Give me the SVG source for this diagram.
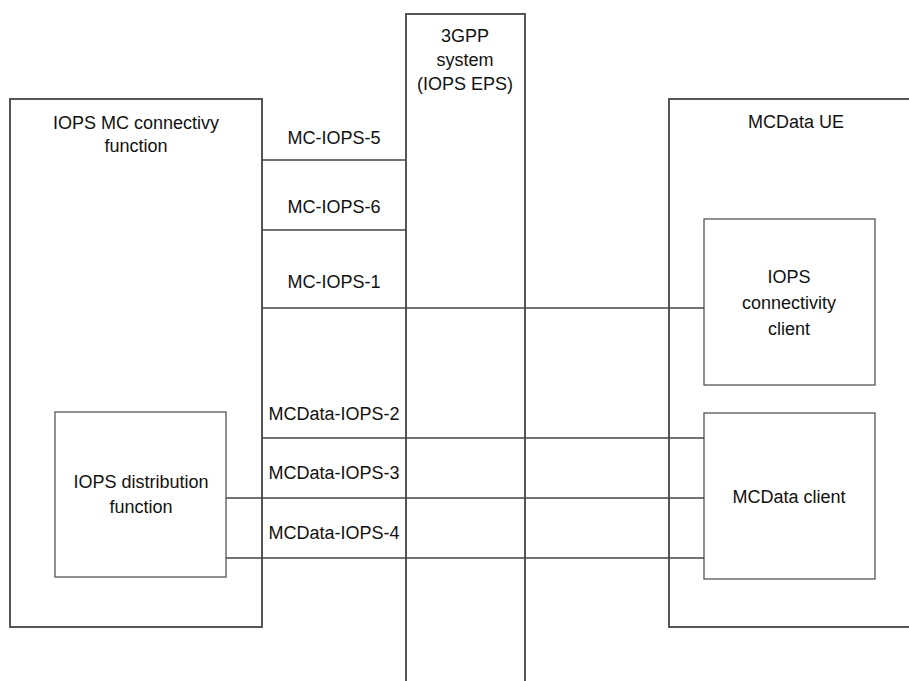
<svg xmlns="http://www.w3.org/2000/svg" width="909" height="681" viewBox="0 0 909 681">
<style>
.outer{fill:none;stroke:#555;stroke-width:2}
.inner{fill:none;stroke:#555;stroke-width:1.3}
.ln{stroke:#444;stroke-width:1.3;fill:none}
text{font-family:"Liberation Sans",Arial,sans-serif;font-size:18px;fill:#111;text-anchor:middle}
</style>
<rect width="909" height="681" fill="#fff"/>
<g id="iops-mc-connectivity-function">
<rect class="outer" x="10" y="99" width="252" height="528"/>
<text x="136" y="129">IOPS MC connectivy</text>
<text x="136" y="152">function</text>
</g>
<g id="iops-distribution-function">
<rect class="inner" x="55" y="412" width="171" height="165"/>
<text x="141" y="488">IOPS distribution</text>
<text x="141" y="513">function</text>
</g>
<g id="3gpp-system">
<path class="outer" d="M406,690 V14 H525 V690"/>
<text x="465" y="42">3GPP</text>
<text x="465" y="66">system</text>
<text x="465" y="90">(IOPS EPS)</text>
</g>
<g id="mcdata-ue">
<path class="outer" d="M915,99 H669 V627 H915"/>
<text x="796" y="128">MCData UE</text>
</g>
<g id="iops-connectivity-client">
<rect class="inner" x="704" y="219" width="171" height="166"/>
<text x="789" y="283">IOPS</text>
<text x="789" y="309">connectivity</text>
<text x="789" y="335">client</text>
</g>
<g id="mcdata-client">
<rect class="inner" x="704" y="413" width="171" height="166"/>
<text x="789" y="503">MCData client</text>
</g>
<g id="connectors">
<line class="ln" x1="262" y1="160" x2="406" y2="160"/>
<line class="ln" x1="262" y1="230" x2="406" y2="230"/>
<line class="ln" x1="262" y1="308" x2="704" y2="308"/>
<line class="ln" x1="262" y1="438" x2="704" y2="438"/>
<line class="ln" x1="226" y1="498" x2="704" y2="498"/>
<line class="ln" x1="226" y1="558" x2="704" y2="558"/>
<text x="334" y="144">MC-IOPS-5</text>
<text x="334" y="213">MC-IOPS-6</text>
<text x="334" y="288">MC-IOPS-1</text>
<text x="334" y="420">MCData-IOPS-2</text>
<text x="334" y="479">MCData-IOPS-3</text>
<text x="334" y="539">MCData-IOPS-4</text>
</g>
</svg>
